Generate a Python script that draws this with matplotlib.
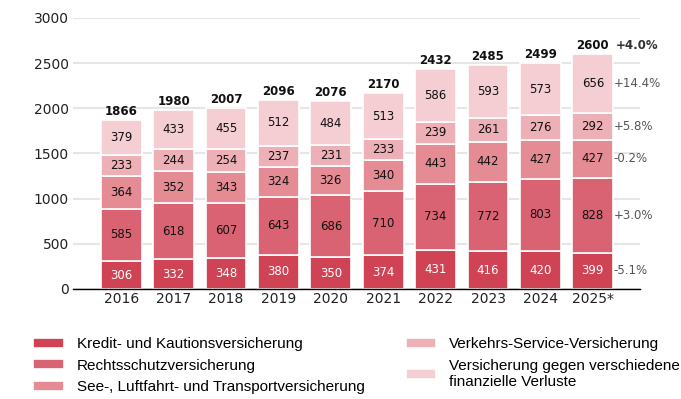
import numpy as np
import matplotlib.pyplot as plt

years = ['2016', '2017', '2018', '2019', '2020', '2021', '2022', '2023', '2024', '2025*']
kredit = [306, 332, 348, 380, 350, 374, 431, 416, 420, 399]
rechtsschutz = [585, 618, 607, 643, 686, 710, 734, 772, 803, 828]
see_luft = [364, 352, 343, 324, 326, 340, 443, 442, 427, 427]
verkehrs = [233, 244, 254, 237, 231, 233, 239, 261, 276, 292]
verluste = [379, 433, 455, 512, 484, 513, 586, 593, 573, 656]
totals = [1866, 1980, 2007, 2096, 2076, 2170, 2432, 2485, 2499, 2600]
growth = ['-5.1%', '+3.0%', '-0.2%', '+5.8%', '+14.4%']
growth_total = '+4.0%'

names = ['Kredit- und Kautionsversicherung',
         'Rechtsschutzversicherung',
         'See-, Luftfahrt- und Transportversicherung',
         'Verkehrs-Service-Versicherung',
         'Versicherung gegen verschiedene\nfinanzielle Verluste']
colors = ['#d04355', '#d96372', '#e48b94', '#edb0b7', '#f4ced3']
series = [kredit, rechtsschutz, see_luft, verkehrs, verluste]

plt.rcParams['font.family'] = 'DejaVu Sans'

fig = plt.figure(figsize=(6.81, 3.99), dpi=100)
ax = fig.add_axes([0.1072, 0.2757, 0.8326, 0.6792])

x = np.arange(len(years))
w = 0.78
bottom = np.zeros(len(years))
handles = []
for k, (vals, col, name) in enumerate(zip(series, colors, names)):
    vals = np.array(vals)
    b = ax.bar(x, vals, w, bottom=bottom, color=col, edgecolor='white',
               linewidth=1.2, label=name, zorder=3)
    handles.append(b)
    tc = 'white' if k == 0 else '#111111'
    for xi, v, b0 in zip(x, vals, bottom):
        ax.text(xi, b0 + v / 2, str(v), ha='center', va='center',
                fontsize=8.5, color=tc, zorder=4)
    # change vs. previous year, next to the last bar
    ax.text(x[-1] + w / 2 + 0.01, bottom[-1] + vals[-1] / 2, growth[k],
            ha='left', va='center', fontsize=8.5, color='#555555', zorder=4)
    bottom = bottom + vals

for xi, top, t in zip(x, bottom, totals):
    ax.text(xi, top + 22, str(t), ha='center', va='bottom', fontsize=8.5,
            fontweight='bold', color='#111111', zorder=4)
ax.text(x[-1] + w / 2 + 0.04, bottom[-1] + 22, growth_total, ha='left',
        va='bottom', fontsize=8.5, fontweight='bold', color='#333333', zorder=4)

ax.set_xlim(-0.92, 9.9)
ax.set_ylim(0, 3000)
ax.set_yticks(range(0, 3001, 500))
ax.set_xticks(x)
ax.set_xticklabels(years)
ax.tick_params(axis='both', length=0, labelsize=10, colors='#222222')
ax.tick_params(axis='x', pad=2)
ax.tick_params(axis='y', pad=3)
ax.grid(axis='y', color='#e6e6e6', linewidth=1.5, zorder=0)
for s in ['top', 'right', 'left']:
    ax.spines[s].set_visible(False)
ax.spines['bottom'].set_color('black')
ax.spines['bottom'].set_linewidth(1)
ax.spines['bottom'].set_zorder(5)

fig.legend(handles=handles, labels=names, ncol=2, frameon=False,
           loc='upper left', bbox_to_anchor=(33 / 681, 1 - 337 / 399),
           borderpad=0, borderaxespad=0, handlelength=2.0, handleheight=0.65,
           handletextpad=0.85, columnspacing=2.7, labelspacing=0.5,
           prop={'family': 'Liberation Sans', 'size': 11})

fig.savefig('out.png', dpi=100)
